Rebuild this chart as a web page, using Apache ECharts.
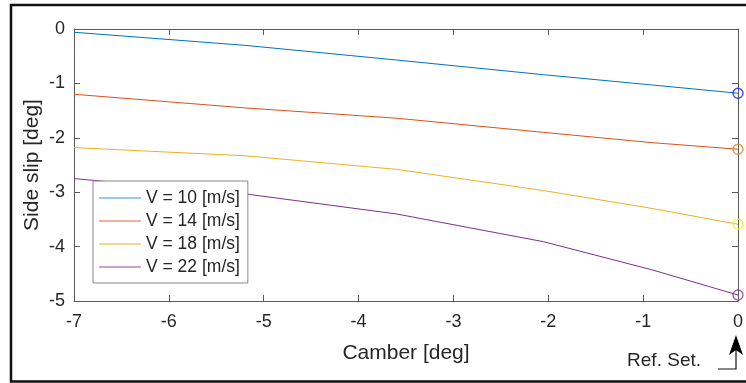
<!DOCTYPE html>
<html>
<head>
<meta charset="utf-8">
<script src="https://cdn.jsdelivr.net/npm/echarts@6/dist/echarts.min.js"></script>
<style>
  html, body { margin: 0; padding: 0; background: #fff; }
  #chart { width: 746px; height: 383px; }
</style>
</head>
<body>
<div id="chart"></div>
<script>
// Camber sweep (deg) at which side slip was evaluated
const camber = [-7, -5.2, -3.6, -2.05, -0.9, 0];

// Side slip (deg) for each forward speed
const slipV10 = [-0.06, -0.30, -0.57, -0.84, -1.03, -1.18];
const slipV14 = [-1.20, -1.45, -1.64, -1.90, -2.09, -2.21];
const slipV18 = [-2.18, -2.33, -2.58, -2.97, -3.30, -3.59];
const slipV22 = [-2.75, -3.03, -3.40, -3.91, -4.43, -4.89];

const seriesNames = ['V = 10 [m/s]', 'V = 14 [m/s]', 'V = 18 [m/s]', 'V = 22 [m/s]'];
const xTicks = [-7, -6, -5, -4, -3, -2, -1, 0];
const yTicks = [-5, -4, -3, -2, -1, 0];

const lineColors = ['#0072BD', '#D95319', '#EDB120', '#7E2F8E'];
const legendColors = ['#9cc8e6', '#f0b29a', '#f5d98f', '#c7a3d0'];
const refColors = ['#1a1aff', '#e08020', '#f2f20a', '#8a3a9a'];

const allSlip = [slipV10, slipV14, slipV18, slipV22];
const FONT = '"Liberation Sans", Arial, Helvetica, sans-serif';
const TXT = '#262626';
const AX = '#5a5a5a';

const chart = echarts.init(document.getElementById('chart'), null, { renderer: 'canvas' });

const baseX = {
  type: 'value', min: -7, max: 0, interval: 1,
  axisLine: { show: true, onZero: false, lineStyle: { color: AX, width: 1 } },
  axisTick: { show: true, inside: true, length: 6, lineStyle: { color: AX } },
  splitLine: { show: false }
};
const baseY = {
  type: 'value', min: -5, max: 0, interval: 1,
  axisLine: { show: true, onZero: false, lineStyle: { color: AX, width: 1 } },
  axisTick: { show: true, inside: true, length: 6, lineStyle: { color: AX } },
  splitLine: { show: false }
};

const series = [];
allSlip.forEach((vals, i) => {
  // the curve itself
  series.push({
    name: 'curve' + i,
    type: 'line',
    data: camber.map((c, k) => [c, vals[k]]),
    showSymbol: false,
    symbol: 'none',
    lineStyle: { color: lineColors[i], width: 1 },
    itemStyle: { color: lineColors[i] },
    z: 2,
    animation: false
  });
  // legend entry (lighter swatch), carries no points
  series.push({
    name: seriesNames[i],
    type: 'line',
    data: [],
    symbol: 'none',
    lineStyle: { color: legendColors[i], width: 2 },
    itemStyle: { color: legendColors[i] },
    animation: false
  });
});
// Reference-setting markers at zero camber
allSlip.forEach((vals, i) => {
  series.push({
    name: 'ref' + i,
    type: 'scatter',
    data: [[camber[camber.length - 1], vals[vals.length - 1]]],
    symbol: 'circle',
    symbolSize: 10,
    clip: false,
    itemStyle: { color: 'rgba(0,0,0,0)', borderColor: refColors[i], borderWidth: 1.4 },
    z: 5,
    animation: false
  });
});

chart.setOption({
  animation: false,
  backgroundColor: '#ffffff',
  grid: { left: 74, top: 29, right: 5, bottom: 82, containLabel: false },
  xAxis: [
    Object.assign({}, baseX, {
      position: 'bottom',
      name: 'Camber [deg]', nameLocation: 'middle', nameGap: 42, nameMoveOverlap: false,
      nameTextStyle: { fontFamily: FONT, fontSize: 21, color: TXT },
      axisLabel: { show: true, margin: 12, fontFamily: FONT, fontSize: 18, color: TXT,
        customValues: xTicks }
    }),
    Object.assign({}, baseX, { position: 'top', axisLabel: { show: false } })
  ],
  yAxis: [
    Object.assign({}, baseY, {
      position: 'left',
      name: 'Side slip [deg]', nameLocation: 'middle', nameGap: 31, nameMoveOverlap: false,
      nameTextStyle: { fontFamily: FONT, fontSize: 21, color: TXT },
      axisLabel: { show: true, margin: 9, fontFamily: FONT, fontSize: 18, color: TXT,
        customValues: yTicks }
    }),
    Object.assign({}, baseY, { position: 'right', axisLabel: { show: false } })
  ],
  legend: {
    orient: 'vertical',
    left: 93, top: 181,
    data: seriesNames,
    icon: 'rect',
    itemWidth: 42, itemHeight: 2, itemGap: 3,
    padding: [7, 8, 6, 6],
    backgroundColor: '#ffffff',
    borderColor: '#8a8a8a', borderWidth: 1, borderRadius: 0,
    textStyle: { fontFamily: FONT, fontSize: 17.5, color: TXT, lineHeight: 20 },
    selectedMode: false
  },
  series: series
});

// Outer frame and the "Ref. Set." pointer at zero camber
const zeroPx = chart.convertToPixel({ xAxisIndex: 0 }, 0);
const arrowX = zeroPx - 2;
chart.setOption({
  graphic: [
    { type: 'rect', shape: { x: 11, y: 5, width: 800, height: 376.5 },
      style: { fill: 'none', stroke: '#111', lineWidth: 2.5 }, z: 100 },
    { type: 'text', x: 701, y: 361,
      style: { text: 'Ref. Set.', fontFamily: FONT, fontSize: 19, fill: TXT,
        textAlign: 'right', textVerticalAlign: 'middle' }, z: 100 },
    { type: 'polyline', shape: { points: [[718, 369], [arrowX, 369], [arrowX, 350]] },
      style: { stroke: '#111', lineWidth: 1.2, fill: 'none' }, z: 100 },
    { type: 'polygon',
      shape: { points: [[arrowX, 335], [arrowX + 7, 355], [arrowX, 350], [arrowX - 7, 355]] },
      style: { fill: '#000' }, z: 101 }
  ]
});
</script>
</body>
</html>
